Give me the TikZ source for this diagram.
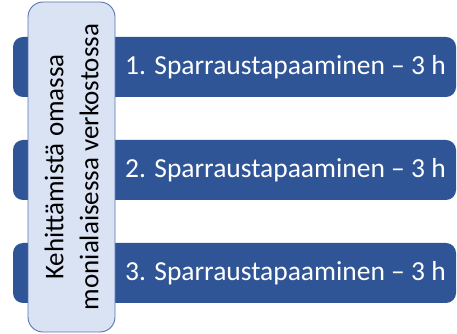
\documentclass[tikz,border=0pt]{standalone}
\usepackage{fontspec}
\setmainfont{Carlito}
\usetikzlibrary{shapes.geometric, arrows, positioning}
\definecolor{barblue}{HTML}{2F5597}
\definecolor{themefill}{HTML}{DAE3F3}
\definecolor{themeline}{HTML}{5673B0}
\tikzstyle{bar} = [rectangle, rounded corners=10pt, minimum width=443pt, minimum height=60pt, inner sep=0pt, fill=barblue]
\tikzstyle{session} = [text=white, inner sep=0pt, font=\fontsize{27.5}{30}\selectfont]
\tikzstyle{theme} = [rectangle, rounded corners=15pt, minimum width=330pt, minimum height=87pt, inner sep=0pt, fill=themefill, draw=themeline, line width=0.9pt, rotate=90, align=center, font=\fontsize{27}{35}\selectfont]

\begin{document}
\begin{tikzpicture}[x=1pt, y=1pt, node distance=103pt]

    \useasboundingbox (0,0) rectangle (457,334);

    % Bars
    \node (bar1) [bar] at (234.5,267) {};
    \node (bar2) [bar, below of=bar1] {};
    \node (bar3) [bar, below of=bar2] {};

    % Theme box
    \node (theme) [theme] at (71.5,167) {Kehittämistä omassa\\monialaisessa verkostossa};

    % Session labels
    \node (session1) [session] at (285.5,267) {1. Sparraustapaaminen – 3 h};
    \node (session2) [session, below of=session1] {2. Sparraustapaaminen – 3 h};
    \node (session3) [session, below of=session2] {3. Sparraustapaaminen – 3 h};

\end{tikzpicture}
\end{document}
